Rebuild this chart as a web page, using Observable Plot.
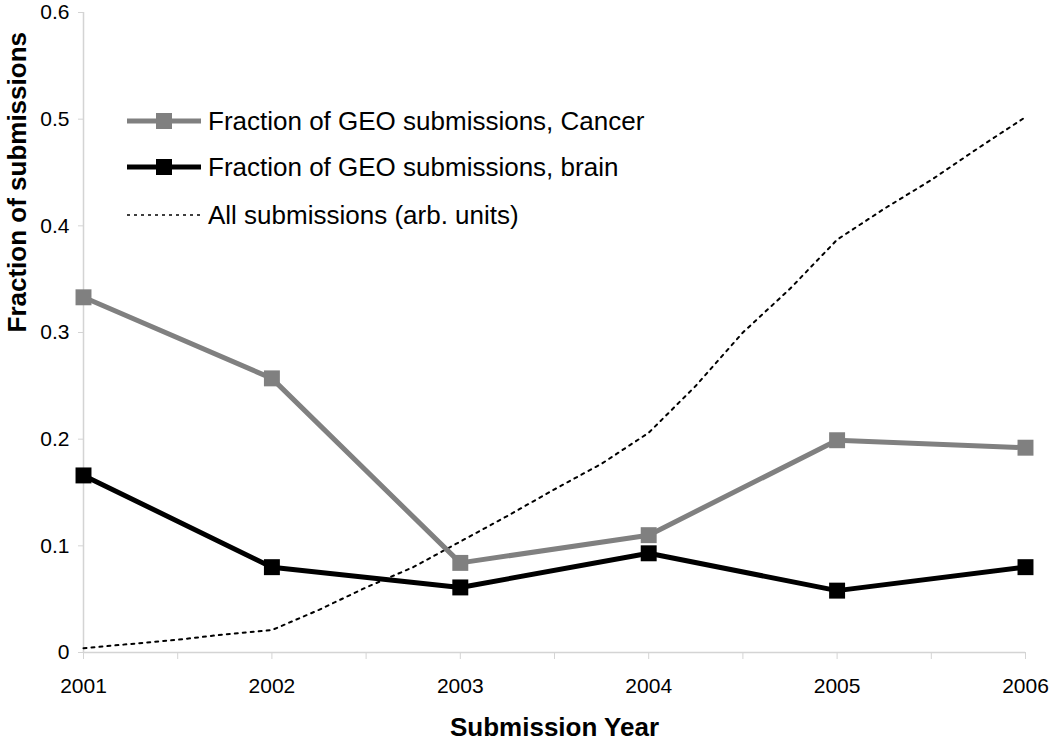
<!DOCTYPE html>
<html><head><meta charset="utf-8">
<script src="https://cdn.jsdelivr.net/npm/d3@7"></script>
<script src="https://cdn.jsdelivr.net/npm/@observablehq/plot@0.6"></script>
<style>
body{margin:0;background:#fff;font-family:"Liberation Sans",Arial,sans-serif;}
#wrap{position:relative;width:1050px;height:750px;}
.item{position:absolute;left:127px;height:30px;display:flex;align-items:center;font-size:26px;color:#000;white-space:nowrap;}
.item svg{margin-right:7px;}
</style></head><body><div id="wrap"></div>
<script>
// ---- data ----
const years = [2001, 2002, 2003, 2004, 2005, 2006];
const cancerFraction = [0.333, 0.257, 0.084, 0.110, 0.199, 0.192];
const brainFraction = [0.166, 0.080, 0.061, 0.093, 0.058, 0.080];
const allTimes = [2001, 2001.25, 2001.5, 2001.75, 2002, 2002.25, 2002.5, 2002.75, 2003, 2003.25, 2003.5, 2003.75, 2004, 2004.25, 2004.5, 2004.75, 2005, 2005.25, 2005.5, 2005.75, 2006];
const allSubmissions = [0.004, 0.008, 0.012, 0.017, 0.021, 0.040, 0.061, 0.080, 0.104, 0.128, 0.153, 0.177, 0.206, 0.250, 0.300, 0.341, 0.387, 0.416, 0.443, 0.473, 0.502];
const yTicks = [0, 0.1, 0.2, 0.3, 0.4, 0.5, 0.6];
const xMinorTicks = [2001.5, 2002.5, 2003.5, 2004.5, 2005.5];
const seriesNames = ["Fraction of GEO submissions, Cancer", "Fraction of GEO submissions, brain", "All submissions (arb. units)"];
const xTitle = "Submission Year";
const yTitle = "Fraction of submissions";

const cancer = years.map((y, i) => ({year: y, v: cancerFraction[i]}));
const brain = years.map((y, i) => ({year: y, v: brainFraction[i]}));
const all = allTimes.map((t, i) => ({year: t, v: allSubmissions[i]}));

const axisGray = "#d4d4d4";
const font = "'Liberation Sans', Arial, sans-serif";

const chart = Plot.plot({
  width: 1050,
  height: 750,
  marginLeft: 83,
  marginRight: 25,
  marginTop: 12,
  marginBottom: 98,
  style: {fontFamily: font, background: "white", color: "black"},
  x: {domain: [2001, 2006]},
  y: {domain: [0, 0.6]},
  marks: [
    Plot.ruleX([2001], {stroke: axisGray, strokeWidth: 1.5}),
    Plot.ruleY([0], {stroke: axisGray, strokeWidth: 1.5}),
    Plot.axisY({ticks: yTicks, tickFormat: d => String(d), tickSize: 5, tickPadding: 9, fontSize: 21, stroke: axisGray, fill: "black", label: null}),
    Plot.axisX({ticks: years, tickFormat: d => String(d), tickSize: 7, tickPadding: 19, fontSize: 21, stroke: axisGray, fill: "black", label: null}),
    Plot.axisX({ticks: xMinorTicks, tickFormat: () => "", tickSize: 7, stroke: axisGray, label: null}),
    Plot.line(all, {x: "year", y: "v", stroke: "black", strokeWidth: 2, strokeDasharray: "3,5"}),
    Plot.line(cancer, {x: "year", y: "v", stroke: "#808080", strokeWidth: 5}),
    Plot.dot(cancer, {x: "year", y: "v", symbol: "square", r: 9, fill: "#808080", stroke: "none"}),
    Plot.line(brain, {x: "year", y: "v", stroke: "black", strokeWidth: 5}),
    Plot.dot(brain, {x: "year", y: "v", symbol: "square", r: 9, fill: "black", stroke: "none"}),
    Plot.text([xTitle], {frameAnchor: "bottom", dy: 83, fontSize: 26, fontWeight: "bold", fill: "black"}),
    Plot.text([yTitle], {frameAnchor: "left", dx: -66, rotate: -90, fontSize: 26, fontWeight: "bold", fill: "black"})
  ]
});
const wrap = document.getElementById("wrap");
wrap.appendChild(chart);

// legend (HTML overlay)
const legendRows = [
  {name: seriesNames[0], color: "#808080", width: 5, dash: null, marker: true, center: 121},
  {name: seriesNames[1], color: "black", width: 5, dash: null, marker: true, center: 167},
  {name: seriesNames[2], color: "black", width: 1.6, dash: "3,4", marker: false, center: 215}
];
legendRows.forEach(r => {
  const div = document.createElement("div");
  div.className = "item";
  div.style.top = (r.center - 15) + "px";
  const svg = d3.create("svg").attr("width", 74).attr("height", 30);
  svg.append("line").attr("x1", 0).attr("x2", 74).attr("y1", 15).attr("y2", 15)
    .attr("stroke", r.color).attr("stroke-width", r.width).attr("stroke-dasharray", r.dash);
  if (r.marker) svg.append("rect").attr("x", 29).attr("y", 7).attr("width", 16).attr("height", 16).attr("fill", r.color);
  div.appendChild(svg.node());
  const span = document.createElement("span");
  span.textContent = r.name;
  div.appendChild(span);
  wrap.appendChild(div);
});
</script></body></html>
